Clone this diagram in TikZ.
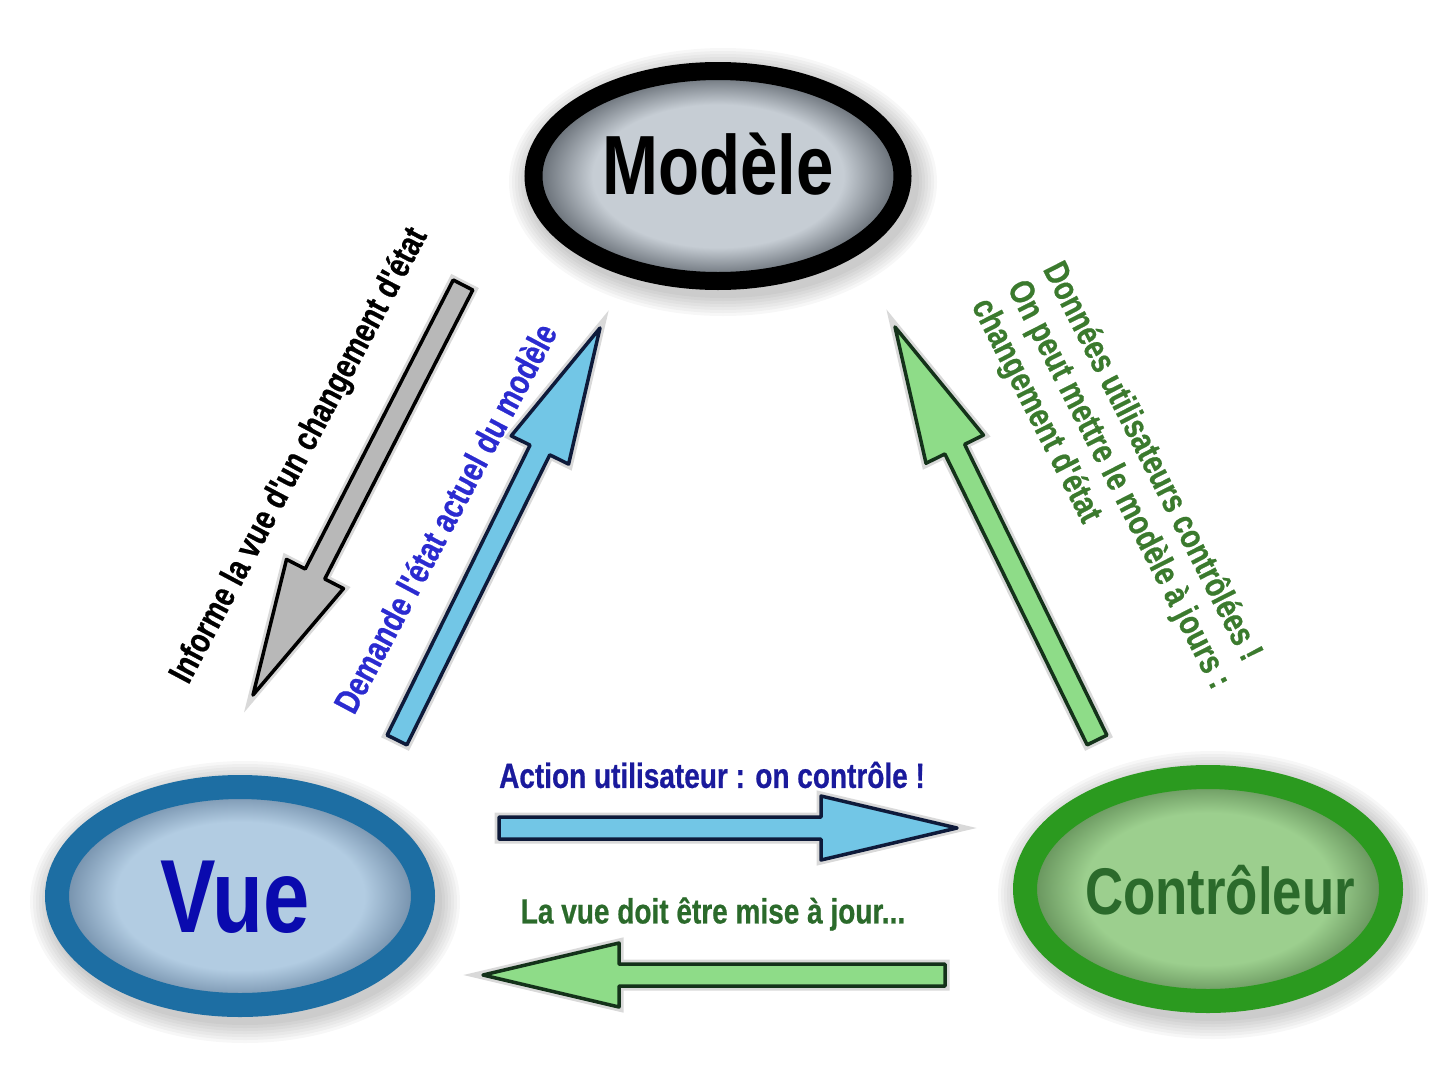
\documentclass[tikz,border=0pt]{standalone}
\usepackage{fontspec}
\usetikzlibrary{calc,shapes.geometric,backgrounds}
\newfontfamily\etroite{Liberation Sans}[FakeStretch=0.8]
\newfontfamily\etroiteGras{Liberation Sans Bold}[FakeStretch=0.8,FakeBold=0.6]

\definecolor{gris}{HTML}{B8B8B8}
\definecolor{bleuFleche}{HTML}{72C6E6}
\definecolor{bleuContour}{HTML}{0E1A3A}
\definecolor{vertFleche}{HTML}{8EDC88}
\definecolor{vertContour}{HTML}{14321A}
\definecolor{modeleFond}{HTML}{C6CDD4}
\definecolor{modeleRim}{HTML}{5C636B}
\definecolor{vueFond}{HTML}{B2CCE2}
\definecolor{vueRim}{HTML}{6A86A2}
\definecolor{vueBord}{HTML}{1D6EA3}
\definecolor{vueTexte}{HTML}{0A0AAE}
\definecolor{ctrlFond}{HTML}{9CCF8E}
\definecolor{ctrlRim}{HTML}{5E8A54}
\definecolor{ctrlBord}{HTML}{2B9A1F}
\definecolor{ctrlTexte}{HTML}{2B6A2B}
\definecolor{actionTexte}{HTML}{1A1A9C}
\definecolor{demandeTexte}{HTML}{2B2BD0}
\definecolor{donneesTexte}{HTML}{3B7A2E}

\pgfdeclareradialshading{fondModele}{\pgfpointorigin}{color(0bp)=(modeleFond); color(17bp)=(modeleFond); color(25bp)=(modeleRim); color(50bp)=(modeleRim)}
\pgfdeclareradialshading{fondVue}{\pgfpointorigin}{color(0bp)=(vueFond); color(17bp)=(vueFond); color(25bp)=(vueRim); color(50bp)=(vueRim)}
\pgfdeclareradialshading{fondCtrl}{\pgfpointorigin}{color(0bp)=(ctrlFond); color(17bp)=(ctrlFond); color(25bp)=(ctrlRim); color(50bp)=(ctrlRim)}

% block arrow from tail #2 to tip #3
\newcommand{\flecheBloc}[3]{%
  \coordinate (base) at ($(#3)!136pt!(#2)$);
  \filldraw[#1] ($(#2)!11pt!90:(#3)$) -- ($(base)!11pt!-90:(#2)$)
    -- ($(base)!32pt!-90:(#2)$) -- (#3) -- ($(base)!32pt!90:(#2)$)
    -- ($(base)!11pt!90:(#2)$) -- ($(#2)!11pt!-90:(#3)$) -- cycle;
}

\begin{document}
\begin{tikzpicture}[x=1pt,y=-1pt,
    bulle/.style={ellipse,inner sep=0pt},
    fleche/.style={line width=3.5pt,line join=round,
      preaction={draw=black,opacity=0.15,line width=9pt}},
    gros/.style={font=\etroite\bfseries\fontsize{84}{90}\selectfont},
    petit/.style={font=\etroiteGras\fontsize{35}{40}\selectfont}]
  \useasboundingbox (0,0) rectangle (1442,1068);

  % the three components
  \node[bulle,shading=fondModele,draw=black,line width=18pt,
        minimum width=369,minimum height=210] (modele) at (718,176) {};
  \node[bulle,shading=fondVue,draw=vueBord,line width=24pt,
        minimum width=366,minimum height=218] (vue) at (240,896) {};
  \node[bulle,shading=fondCtrl,draw=ctrlBord,line width=24pt,
        minimum width=366,minimum height=224] (ctrl) at (1208,889) {};

  \node[gros] (tModele) at (718,164) {Modèle};
  \node[gros,text=vueTexte,font=\etroite\bfseries\fontsize{104}{110}\selectfont]
        (tVue) at (235,897) {Vue};
  \node[gros,text=ctrlTexte,font=\etroite\bfseries\fontsize{66}{70}\selectfont]
        (tCtrl) at (1220,890) {Contrôleur};

  % soft shadows
  \begin{scope}[on background layer]
    \foreach \n/\rx/\ry in {modele/194/114,vue/195/121,ctrl/195/124}
      \foreach \k in {2,5,...,20}
        \fill[black,opacity=0.03] ([xshift=5pt,yshift=-6pt]\n.center)
          ellipse [x radius=\rx+\k,y radius=\ry+\k];
  \end{scope}

  % arrow ends
  \coordinate (grisA) at (463,285);
  \coordinate (grisB) at (253,695);
  \coordinate (demA) at (397,740);
  \coordinate (demB) at (600,328);
  \coordinate (donA) at (1097,740);
  \coordinate (donB) at (895,327);
  \coordinate (actA) at (499,828);
  \coordinate (actB) at (957,828);
  \coordinate (majA) at (945,975);
  \coordinate (majB) at (483,975);

  \flecheBloc{fleche,fill=gris,draw=black}{grisA}{grisB}
  \flecheBloc{fleche,fill=bleuFleche,draw=bleuContour}{demA}{demB}
  \flecheBloc{fleche,fill=vertFleche,draw=vertContour}{donA}{donB}
  \flecheBloc{fleche,fill=bleuFleche,draw=bleuContour}{actA}{actB}
  \flecheBloc{fleche,fill=vertFleche,draw=vertContour}{majA}{majB}

  % labels
  \node[petit,rotate=62] (infoVue) at (300,456) {Informe la vue d'un changement d'état};
  \node[petit,rotate=62,text=demandeTexte] (demEtat) at (445,518)
        {Demande l'état actuel du modèle};
  \node[petit,rotate=-63,text=donneesTexte,align=left] (donnees) at (1118,485)
        {Données utilisateurs contrôlées !\\On peut mettre le modèle à jours :\\changement d'état};
  \node[petit,text=actionTexte] (action) at (712,775) {Action utilisateur : on contrôle !};
  \node[petit,text=ctrlTexte] (majVue) at (713,914) {La vue doit être mise à jour...};
\end{tikzpicture}
\end{document}
